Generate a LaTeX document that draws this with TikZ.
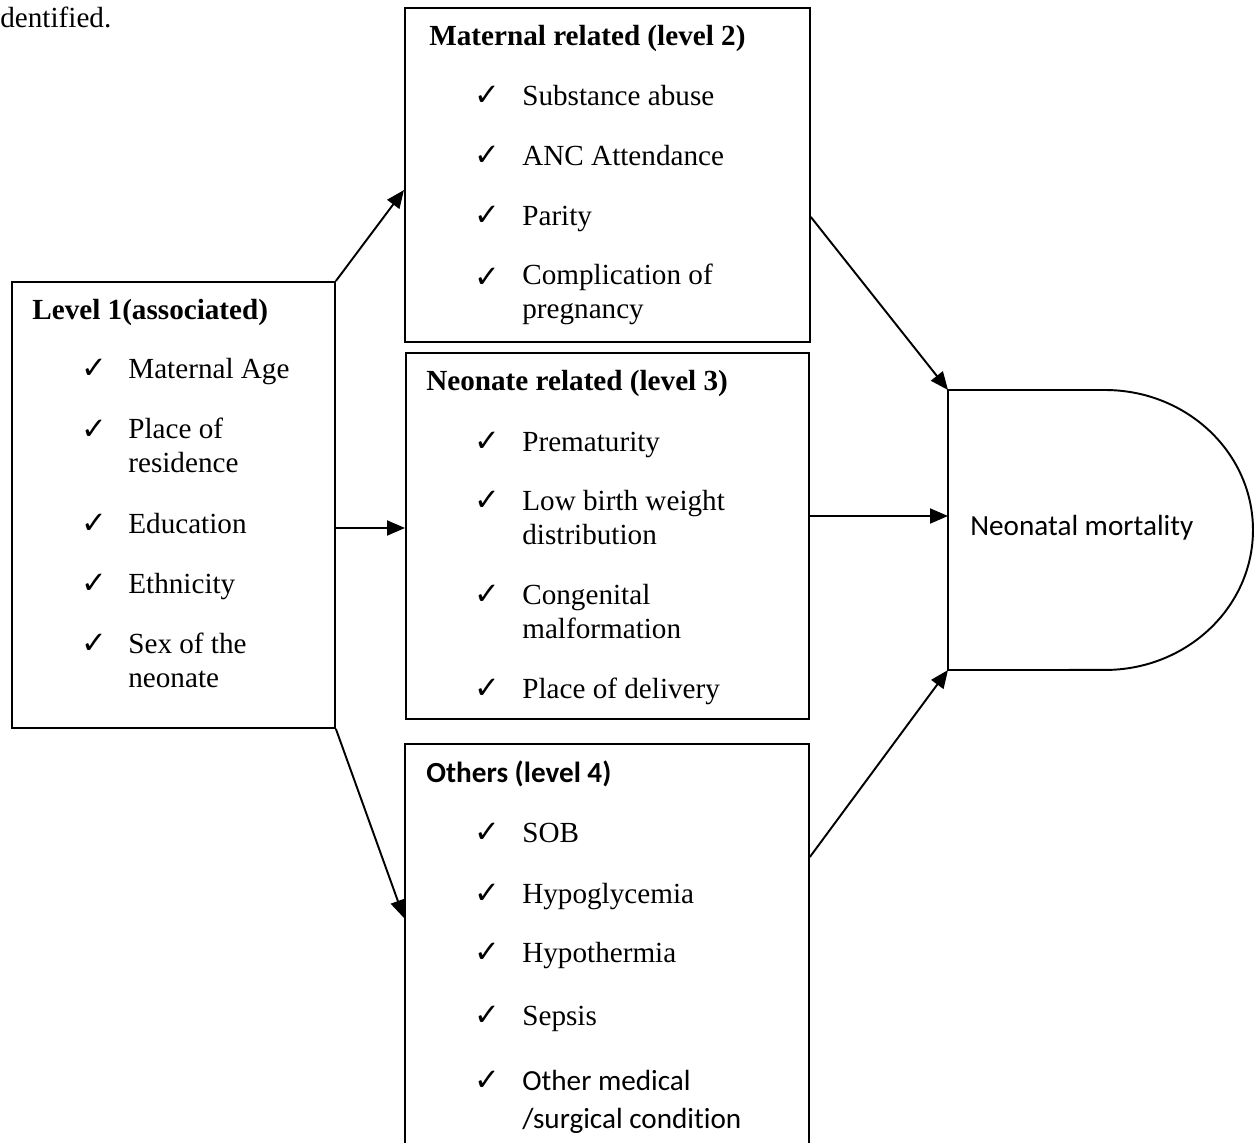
\documentclass[tikz,border=0pt]{standalone}
\usepackage{fontspec}
\setmainfont{Liberation Serif}
\newfontfamily\calibri[Ligatures=CommonOff]{Carlito}
\newfontfamily\symb{DejaVu Sans}
\usepackage{tikz}
\usetikzlibrary{arrows.meta, positioning, calc}

\begin{document}
\begin{tikzpicture}[
    x=0.02cm, y=-0.02cm,
    every node/.style={inner sep=0pt, font=\fontsize{16.6}{18.8}\selectfont},
    box/.style={draw, line width=1.1pt, anchor=north west},
    head/.style={anchor=base west, font=\fontsize{16.6}{18.8}\selectfont\bfseries},
    item/.style={anchor=base west, align=left},
    chk/.style={anchor=base west, font=\fontsize{17.5}{19}\selectfont\symb\bfseries},
    arr/.style={-{Triangle[length=0.36cm, width=0.3cm]}, line width=1.1pt}
  ]
    \useasboundingbox (0,0) rectangle (1258,1143);
    \clip (0,0) rectangle (1258,1143);

    % Text left over from the page
    \node[anchor=base west] (prev) at (0,27) {dentified.};

    % Boxes
    \node[box, minimum width=6.46cm, minimum height=8.92cm] (lvl) at (11,281) {};
    \node[box, minimum width=8.1cm, minimum height=6.68cm] (mat) at (404,7) {};
    \node[box, minimum width=8.06cm, minimum height=7.32cm] (neo) at (405,352) {};
    \node[box, minimum width=8.08cm, minimum height=10cm] (oth) at (404,743) {};

    % Level 1 (two-line items sit on their last line)
    \node[head] (lvlh) at (32,319) {Level 1(associated)};
    \node[chk] (l1c) at (81,378) {✓};
    \node[item] (l1) at (128,378) {Maternal Age};
    \node[chk] (l2c) at (81,439) {✓};
    \node[item] (l2) at (128,472) {Place of\\residence};
    \node[chk] (l3c) at (81,533) {✓};
    \node[item] (l3) at (128,533) {Education};
    \node[chk] (l4c) at (81,593) {✓};
    \node[item] (l4) at (128,593) {Ethnicity};
    \node[chk] (l5c) at (81,653) {✓};
    \node[item] (l5) at (128,687) {Sex of the\\neonate};

    % Maternal related
    \node[head] (math) at (429,45) {Maternal related (level 2)};
    \node[chk] (m1c) at (474,105) {✓};
    \node[item] (m1) at (522,105) {Substance abuse};
    \node[chk] (m2c) at (474,165) {✓};
    \node[item] (m2) at (522,165) {ANC Attendance};
    \node[chk] (m3c) at (474,225) {✓};
    \node[item] (m3) at (522,225) {Parity};
    \node[chk] (m4c) at (474,287) {✓};
    \node[item] (m4) at (522,318) {Complication of\\pregnancy};

    % Neonate related
    \node[head] (neoh) at (426,390) {Neonate related (level 3)};
    \node[chk] (n1c) at (474,451) {✓};
    \node[item] (n1) at (522,451) {Prematurity};
    \node[chk] (n2c) at (474,510) {✓};
    \node[item] (n2) at (522,544) {Low birth weight\\distribution};
    \node[chk] (n3c) at (474,604) {✓};
    \node[item] (n3) at (522,638) {Congenital\\malformation};
    \node[chk] (n4c) at (474,698) {✓};
    \node[item] (n4) at (522,698) {Place of delivery};

    % Others
    \node[head, font=\fontsize{16.6}{18.8}\selectfont\calibri\bfseries] (othh) at (426,782) {Others (level 4)};
    \node[chk] (o1c) at (474,842) {✓};
    \node[item] (o1) at (522,842) {SOB};
    \node[chk] (o2c) at (474,903) {✓};
    \node[item] (o2) at (522,903) {Hypoglycemia};
    \node[chk] (o3c) at (474,962) {✓};
    \node[item] (o3) at (522,962) {Hypothermia};
    \node[chk] (o4c) at (474,1025) {✓};
    \node[item] (o4) at (522,1025) {Sepsis};
    \node[chk] (o5c) at (474,1090) {✓};
    \node[item, font=\fontsize{16.6}{21.6}\selectfont\calibri] (o5) at (522,1128) {Other medical\\/surgical condition};

    % Outcome
    \coordinate (dnw) at (948,390);
    \coordinate (dsw) at (948,670);
    \draw[line width=1.1pt] (dnw) -- ++(157,0)
      arc[start angle=90, end angle=-90, x radius=2.96cm, y radius=2.8cm] -- (dsw) -- cycle;
    \node[anchor=base west, font=\fontsize{16.6}{18.8}\selectfont\calibri] (mort) at (970,535) {Neonatal mortality};

    % Connectors
    \coordinate (neoin) at ($(neo.north west)+(0,176)$);
    \coordinate (dmid) at ($(dnw)+(0,126)$);
    \draw[arr] (lvl.north east) -- ($(mat.north west)+(0,183)$);
    \draw[arr] (lvl.east |- neoin) -- (neoin);
    \draw[arr] (lvl.south east) -- ($(oth.north west)+(0,175)$);
    \draw[arr] ($(mat.north east)+(0,210)$) -- (dnw);
    \draw[arr] (neo.east |- dmid) -- (dmid);
    \draw[arr] ($(oth.north east)+(0,114)$) -- (dsw);
\end{tikzpicture}
\end{document}
